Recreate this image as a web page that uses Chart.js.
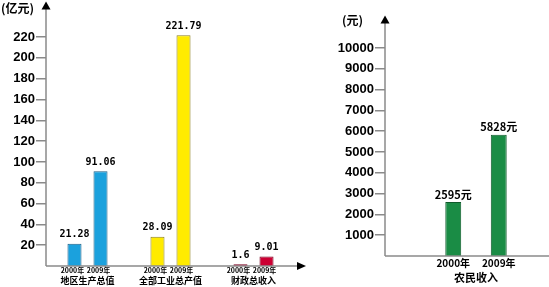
<!DOCTYPE html>
<html>
<head>
<meta charset="utf-8">
<script src="https://cdn.jsdelivr.net/npm/chart.js@4"></script>
<style>
  html, body { margin: 0; padding: 0; background: #fff; overflow: hidden; }
  #left { position: absolute; left: 0; top: 0; }
  #right { position: absolute; left: 330px; top: 0; }
</style>
</head>
<body>
<canvas id="left" width="320" height="287"></canvas>
<canvas id="right" width="219" height="287"></canvas>
<script>
// left chart data
const groups = ['地区生产总值', '全部工业总产值', '财政总收入'];
const years = ['2000年', '2009年'];
const values2000 = [21.28, 28.09, 1.6];
const values2009 = [91.06, 221.79, 9.01];
const leftTicks = [20, 40, 60, 80, 100, 120, 140, 160, 180, 200, 220];
const groupFill = ['#1ba1dd', '#ffeb00', '#cc0033'];
const groupBorder = ['#1d5f86', '#8c7f22', '#7a0020'];

// right chart data
const incomeLabel = '农民收入';
const incomeYears = ['2000年', '2009年'];
const incomeValues = [2595, 5828];
const rightTicks = [1000, 2000, 3000, 4000, 5000, 6000, 7000, 8000, 9000, 10000];

const AXIS = '#8a8a8a';
const CJK = "'Noto Sans CJK SC', 'Liberation Sans', sans-serif";

function arrowUp(ctx, x, tipY) {
  ctx.beginPath();
  ctx.moveTo(x, tipY);
  ctx.lineTo(x - 4.5, tipY + 8);
  ctx.lineTo(x + 4.5, tipY + 8);
  ctx.closePath();
  ctx.fill();
}

const leftPlugin = {
  id: 'leftDecor',
  afterDraw(chart) {
    const ctx = chart.ctx;
    const a = chart.chartArea;
    ctx.save();
    ctx.strokeStyle = AXIS;
    ctx.lineWidth = 1.5;
    ctx.beginPath();
    ctx.moveTo(a.left, a.bottom);
    ctx.lineTo(a.left, 9);
    ctx.moveTo(a.left, a.bottom);
    ctx.lineTo(298, a.bottom);
    ctx.stroke();
    ctx.fillStyle = '#000';
    arrowUp(ctx, a.left, 1.5);
    ctx.beginPath();
    ctx.moveTo(306, a.bottom);
    ctx.lineTo(297, a.bottom - 4);
    ctx.lineTo(297, a.bottom + 4);
    ctx.closePath();
    ctx.fill();

    ctx.textAlign = 'left';
    ctx.textBaseline = 'middle';
    ctx.font = 'bold 12px ' + CJK;
    ctx.fillText('(亿元)', 1, 8);

    ctx.textAlign = 'center';
    chart.data.datasets.forEach((ds, di) => {
      chart.getDatasetMeta(di).data.forEach((el, i) => {
        ctx.textBaseline = 'bottom';
        ctx.font = "bold 10px 'DejaVu Sans Mono', monospace";
        ctx.fillText(String(ds.data[i]), el.x, el.y - 4);
        ctx.textBaseline = 'top';
        ctx.font = 'bold 7px ' + CJK;
        ctx.fillText(years[di], el.x - 2, a.bottom + 1);
      });
    });
    const xs = chart.scales.x;
    ctx.textBaseline = 'middle';
    ctx.font = 'bold 9px ' + CJK;
    groups.forEach((g, i) => {
      ctx.fillText(g, xs.getPixelForValue(i), 281);
    });
    ctx.restore();
  }
};

new Chart(document.getElementById('left'), {
  type: 'bar',
  data: {
    labels: groups,
    datasets: [
      { label: years[0], data: values2000, backgroundColor: groupFill, borderColor: groupBorder, borderWidth: 1 },
      { label: years[1], data: values2009, backgroundColor: groupFill, borderColor: groupBorder, borderWidth: 1 }
    ]
  },
  options: {
    responsive: false,
    animation: false,
    devicePixelRatio: 1,
    layout: { padding: { top: 10, right: 25, bottom: 21, left: 0 } },
    categoryPercentage: 0.627,
    barPercentage: 0.54,
    plugins: { legend: { display: false }, tooltip: { enabled: false } },
    scales: {
      x: { display: false },
      y: {
        min: 0,
        max: 246,
        afterBuildTicks(scale) { scale.ticks = leftTicks.map(v => ({ value: v })); },
        afterFit(scale) { scale.width = 46; },
        border: { display: false },
        grid: { drawOnChartArea: false, drawTicks: true, tickLength: 10, color: AXIS, lineWidth: 1.5 },
        ticks: {
          padding: 1,
          color: '#000',
          font: { family: 'Liberation Sans', size: 13, weight: 'bold' },
          callback: v => String(v)
        }
      }
    }
  },
  plugins: [leftPlugin]
});

const rightPlugin = {
  id: 'rightDecor',
  afterDraw(chart) {
    const ctx = chart.ctx;
    const a = chart.chartArea;
    ctx.save();
    ctx.strokeStyle = AXIS;
    ctx.lineWidth = 1.5;
    ctx.beginPath();
    ctx.moveTo(a.left, a.bottom);
    ctx.lineTo(a.left, 22);
    ctx.moveTo(a.left, a.bottom);
    ctx.lineTo(chart.width, a.bottom);
    ctx.stroke();
    ctx.fillStyle = '#000';
    arrowUp(ctx, a.left, 15.5);

    ctx.textAlign = 'left';
    ctx.textBaseline = 'middle';
    ctx.font = 'bold 12px ' + CJK;
    ctx.fillText('(元)', 12, 20);

    ctx.textAlign = 'center';
    ctx.textBaseline = 'bottom';
    ctx.font = 'bold 11px ' + CJK;
    const ds = chart.data.datasets[0];
    chart.getDatasetMeta(0).data.forEach((el, i) => {
      if (ds.data[i] == null) return;
      ctx.fillText(ds.data[i] + '元', el.x, el.y - 2);
    });
    ctx.textBaseline = 'middle';
    ctx.font = 'bold 11px ' + CJK;
    const xs = chart.scales.x;
    const mid = (xs.getPixelForValue(1) + xs.getPixelForValue(2)) / 2;
    ctx.fillText(incomeLabel, mid, 277.5);
    ctx.restore();
  }
};

new Chart(document.getElementById('right'), {
  type: 'bar',
  data: {
    labels: [''].concat(incomeYears),
    datasets: [{
      label: incomeLabel,
      data: [null].concat(incomeValues),
      backgroundColor: '#1a8c45',
      borderColor: '#0f5a2b',
      borderWidth: 1
    }]
  },
  options: {
    responsive: false,
    animation: false,
    devicePixelRatio: 1,
    layout: { padding: { top: 22, right: 27.5, bottom: 0, left: 0 } },
    categoryPercentage: 1,
    barPercentage: 0.35,
    plugins: { legend: { display: false }, tooltip: { enabled: false } },
    scales: {
      x: {
        afterFit(scale) { scale.height = 31; },
        border: { display: false },
        grid: { display: false, drawTicks: false },
        ticks: {
          padding: 1,
          color: '#000',
          maxRotation: 0,
          autoSkip: false,
          font: { family: 'Noto Sans CJK SC', size: 10, weight: 'bold' }
        }
      },
      y: {
        min: 0,
        max: 11250,
        afterBuildTicks(scale) { scale.ticks = rightTicks.map(v => ({ value: v })); },
        afterFit(scale) { scale.width = 55; },
        border: { display: false },
        grid: { drawOnChartArea: false, drawTicks: true, tickLength: 10, color: AXIS, lineWidth: 1.5 },
        ticks: {
          padding: 1,
          color: '#000',
          font: { family: 'Liberation Sans', size: 13, weight: 'bold' },
          callback: v => String(v)
        }
      }
    }
  },
  plugins: [rightPlugin]
});
</script>
</body>
</html>
